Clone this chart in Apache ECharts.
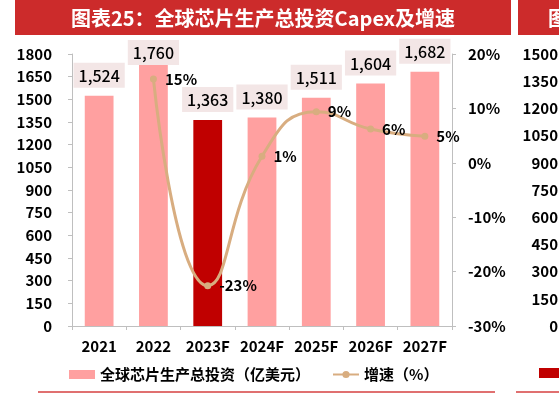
<!DOCTYPE html>
<html>
<head>
<meta charset="utf-8">
<script src="https://cdn.jsdelivr.net/npm/echarts@6/dist/echarts.min.js"></script>
<style>
html,body{margin:0;padding:0;background:#fff;}
#chart{width:559px;height:393px;}
</style>
</head>
<body>
<div id="chart"></div>
<script>
const categories = ['2021', '2022', '2023F', '2024F', '2025F', '2026F', '2027F'];
const capex = [1524, 1760, 1363, 1380, 1511, 1604, 1682];
const growth = [null, 15.4, -22.6, 1.2, 9.4, 6.2, 4.9];
const leftTicks = { min: 0, max: 1800, interval: 150 };
const rightTicks = { min: -30, max: 20, interval: 10 };
const nextTicks = { min: 0, max: 1500, interval: 150 };
const titleText = '图表25：全球芯片生产总投资Capex及增速';
const barName = '全球芯片生产总投资（亿美元）';
const lineName = '增速（%）';
const highlightIndex = 2;

const FONT = '"Noto Sans CJK SC", "Noto Sans", sans-serif';
const chart = echarts.init(document.getElementById('chart'), null, { renderer: 'canvas' });

const barData = capex.map((v, i) => {
  const item = { value: v };
  if (i === highlightIndex) item.itemStyle = { color: '#c00000' };
  if (i === 1) item.label = { distance: -5 };
  return item;
});

const plain = v => String(v);

chart.setOption({
  animation: false,
  backgroundColor: '#fff',
  textStyle: { fontFamily: FONT },
  grid: [
    { left: 72, right: 107, top: 54, bottom: 67 },
    { left: 567, width: 100, top: 54, bottom: 67 }
  ],
  legend: {
    left: 64, top: 362,
    itemWidth: 26, itemHeight: 9, itemGap: 22,
    textStyle: { fontFamily: FONT, fontSize: 15, fontWeight: 'bold', color: '#000' },
    data: [
      { name: barName, icon: 'rect' },
      { name: lineName }
    ]
  },
  xAxis: [
    {
      type: 'category', data: categories, gridIndex: 0,
      axisLine: { lineStyle: { color: '#bfbfbf', width: 1 } },
      axisTick: { show: true, length: 4, lineStyle: { color: '#bfbfbf' } },
      axisLabel: { interval: 0, margin: 13, fontFamily: FONT, fontSize: 15, fontWeight: 'bold', color: '#000' }
    },
    { type: 'category', data: categories, gridIndex: 1, show: false }
  ],
  yAxis: [
    {
      type: 'value', gridIndex: 0, min: leftTicks.min, max: leftTicks.max, interval: leftTicks.interval,
      splitLine: { show: false },
      axisLine: { show: true, lineStyle: { color: '#bfbfbf' } },
      axisTick: { show: true, length: 4, lineStyle: { color: '#bfbfbf' } },
      axisLabel: { margin: 20, formatter: plain, fontFamily: FONT, fontSize: 15, fontWeight: 'bold', color: '#000' }
    },
    {
      type: 'value', gridIndex: 0, position: 'right', min: rightTicks.min, max: rightTicks.max, interval: rightTicks.interval,
      splitLine: { show: false },
      axisLine: { show: true, lineStyle: { color: '#bfbfbf' } },
      axisTick: { show: true, length: 4, lineStyle: { color: '#bfbfbf' } },
      axisLabel: { margin: 16, formatter: '{value}%', fontFamily: FONT, fontSize: 15, fontWeight: 'bold', color: '#000' }
    },
    {
      type: 'value', gridIndex: 1, min: nextTicks.min, max: nextTicks.max, interval: nextTicks.interval,
      splitLine: { show: false },
      axisLine: { show: false }, axisTick: { show: false },
      axisLabel: { margin: 9, formatter: plain, fontFamily: FONT, fontSize: 15, fontWeight: 'bold', color: '#000' }
    }
  ],
  series: [
    {
      name: barName, type: 'bar', xAxisIndex: 0, yAxisIndex: 0,
      data: barData, barWidth: '53%',
      itemStyle: { color: '#ffa0a0' },
      label: {
        show: true, position: 'top', distance: 8,
        formatter: p => p.value.toLocaleString('en-US'),
        fontFamily: FONT, fontSize: 16, fontWeight: 500, color: '#000',
        backgroundColor: '#f3e6e6', padding: [5, 5, 4, 5]
      },
      z: 2
    },
    {
      name: lineName, type: 'line', xAxisIndex: 0, yAxisIndex: 1,
      data: growth, smooth: 0.5,
      symbol: 'circle', symbolSize: 7,
      lineStyle: { color: '#d8ad80', width: 3 },
      itemStyle: { color: '#d8ad80' },
      label: {
        show: true, position: 'right', distance: 8,
        formatter: p => Math.round(p.value) + '%',
        fontFamily: FONT, fontSize: 15, fontWeight: 'bold', color: '#000'
      },
      z: 5
    }
  ],
  graphic: [
    { type: 'rect', shape: { x: 15, y: 0, width: 496, height: 35 }, style: { fill: '#cc2b2b' }, z: 10 },
    { type: 'text', x: 263, y: 18, style: { text: titleText, fill: '#fff', font: 'bold 20px ' + FONT, textAlign: 'center', textVerticalAlign: 'middle' }, z: 11 },
    { type: 'rect', shape: { x: 518, y: 0, width: 60, height: 35 }, style: { fill: '#cc2b2b' }, z: 10 },
    { type: 'text', x: 548, y: 18, style: { text: '图', fill: '#fff', font: 'bold 20px ' + FONT, textAlign: 'left', textVerticalAlign: 'middle' }, z: 11 },
    { type: 'rect', shape: { x: 539, y: 368, width: 30, height: 10 }, style: { fill: '#c00000' }, z: 10 },
    { type: 'line', shape: { x1: 38, y1: 392, x2: 495, y2: 392 }, style: { stroke: '#e07070', lineWidth: 2 }, z: 10 },
    { type: 'line', shape: { x1: 516, y1: 392, x2: 559, y2: 392 }, style: { stroke: '#e07070', lineWidth: 2 }, z: 10 }
  ]
});
</script>
</body>
</html>
